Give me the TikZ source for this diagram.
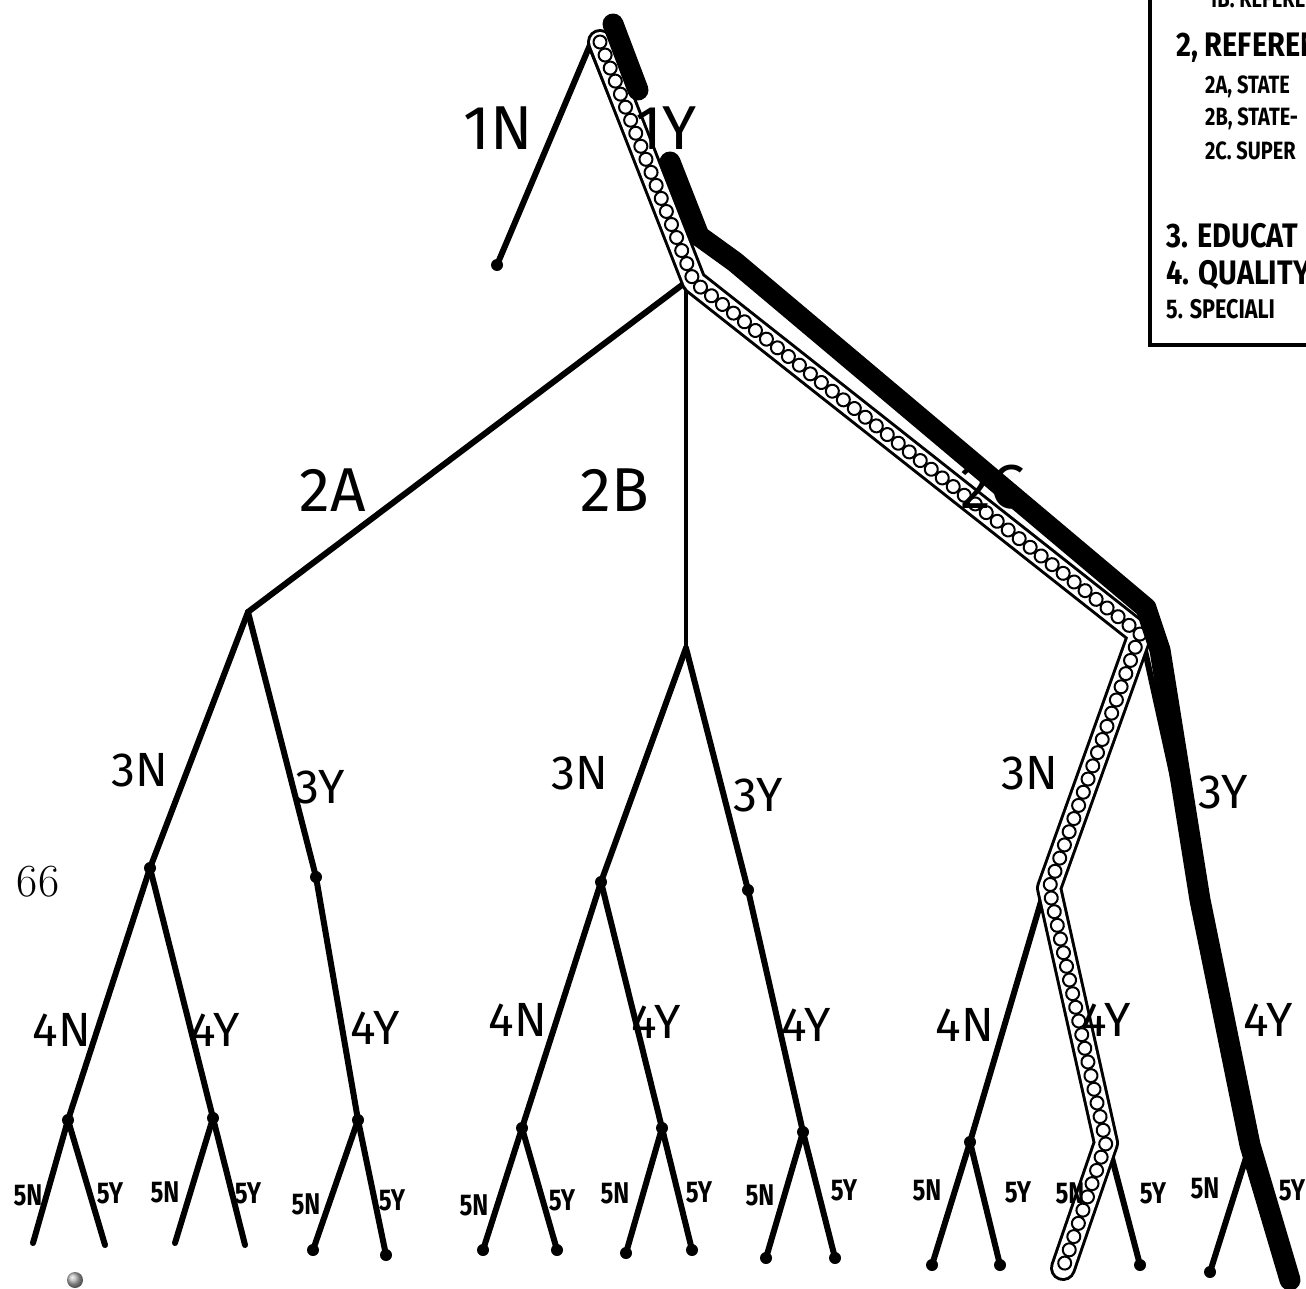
\documentclass[tikz,border=0pt]{standalone}
\usepackage{fontspec}
\usetikzlibrary{decorations.markings}
\newfontfamily\lab{Fira Sans}
\begin{document}
\begin{tikzpicture}[x=1pt,y=-1pt,
  edge/.style={line width=6pt, line cap=round},
  thinedge/.style={line width=4pt, line cap=round},
  dot/.style={circle, fill=black, inner sep=0pt, minimum size=12pt},
  pt/.style={inner sep=0pt, minimum size=0pt},
  big/.style={font=\lab\fontsize{62}{62}\selectfont, inner sep=0pt},
  mid/.style={font=\lab\fontsize{48}{48}\selectfont, inner sep=0pt},
  small/.style={font=\lab\bfseries\fontsize{30}{30}\selectfont, xscale=0.8, inner sep=0pt},
  legA/.style={font=\lab\bfseries\fontsize{34}{34}\selectfont, anchor=base west, inner sep=0pt, xscale=0.85},
  legB/.style={font=\lab\bfseries\fontsize{25}{25}\selectfont, anchor=base west, inner sep=0pt, xscale=0.8},
  hatch/.style={line width=26pt, line join=round, line cap=round, draw=black,
    postaction={draw=white, line width=20pt, line join=round, line cap=round},
    postaction={decorate, decoration={markings,
      mark=between positions 0 and 1 step 14pt with {\draw[line width=2pt, black] (0,0) circle (6.5pt);}}}},
  blackband/.style={line width=21pt, line cap=round, line join=round, draw=black}
]
\useasboundingbox (0,0) rectangle (1306,1289);

% ---- tree points ----
\node[pt] (root) at (590,45) {};
\node[dot] (n1N) at (497,265) {};
\node[pt] (n1Y) at (686,282) {};
\node[pt] (n2A) at (248,612) {};
\node[pt] (n2B) at (686,648) {};
\node[pt] (n2C) at (1140,628) {};
\node[dot] (a3N) at (150,868) {};
\node[dot] (a3Y) at (316,877) {};
\node[dot] (b3N) at (601,882) {};
\node[dot] (b3Y) at (748,890) {};
\node[dot] (c3N) at (1045,888) {};
\node[dot] (c3Y) at (1200,900) {};
\node[dot] (q1) at (68,1120) {};
\node[dot] (q2) at (213,1118) {};
\node[dot] (q3) at (358,1120) {};
\node[dot] (q4) at (522,1128) {};
\node[dot] (q5) at (662,1128) {};
\node[dot] (q6) at (803,1132) {};
\node[dot] (q7) at (970,1142) {};
\node[dot] (q8) at (1108,1143) {};
\node[dot] (q9) at (1250,1145) {};
% leaves
\node[pt] (l1) at (33,1243) {};
\node[pt] (l2) at (105,1245) {};
\node[pt] (l3) at (175,1243) {};
\node[pt] (l4) at (245,1245) {};
\node[dot] (l5) at (313,1250) {};
\node[dot] (l6) at (386,1255) {};
\node[dot] (l7) at (483,1250) {};
\node[dot] (l8) at (557,1250) {};
\node[dot] (l9) at (626,1253) {};
\node[dot] (l10) at (692,1250) {};
\node[dot] (l11) at (766,1258) {};
\node[dot] (l12) at (835,1258) {};
\node[dot] (l13) at (932,1265) {};
\node[dot] (l14) at (1000,1265) {};
\node[dot] (l15) at (1070,1268) {};
\node[dot] (l16) at (1140,1265) {};
\node[dot] (l17) at (1210,1272) {};
\node[dot] (l18) at (1290,1280) {};

% ---- edges ----
\draw[edge] (root.center) -- (n1N.center);
\draw[edge] (root.center) -- (n1Y.center);
\draw[edge] (n1Y.center) -- (n2A.center);
\draw[thinedge] (n1Y.center) -- (n2B.center);
\draw[edge] (n1Y.center) -- (n2C.center);
\draw[edge] (n2A.center) -- (a3N.center);
\draw[edge] (n2A.center) -- (a3Y.center);
\draw[edge] (n2B.center) -- (b3N.center);
\draw[edge] (n2B.center) -- (b3Y.center);
\draw[edge] (n2C.center) -- (c3N.center);
\draw[edge] (n2C.center) -- (c3Y.center);
\draw[edge] (a3N.center) -- (q1.center);
\draw[edge] (a3N.center) -- (q2.center);
\draw[edge] (a3Y.center) -- (q3.center);
\draw[edge] (b3N.center) -- (q4.center);
\draw[edge] (b3N.center) -- (q5.center);
\draw[edge] (b3Y.center) -- (q6.center);
\draw[edge] (c3N.center) -- (q7.center);
\draw[edge] (c3N.center) -- (q8.center);
\draw[edge] (c3Y.center) -- (q9.center);
\draw[edge] (q1.center) -- (l1.center);
\draw[edge] (q1.center) -- (l2.center);
\draw[edge] (q2.center) -- (l3.center);
\draw[edge] (q2.center) -- (l4.center);
\draw[edge] (q3.center) -- (l5.center);
\draw[edge] (q3.center) -- (l6.center);
\draw[edge] (q4.center) -- (l7.center);
\draw[edge] (q4.center) -- (l8.center);
\draw[edge] (q5.center) -- (l9.center);
\draw[edge] (q5.center) -- (l10.center);
\draw[edge] (q6.center) -- (l11.center);
\draw[edge] (q6.center) -- (l12.center);
\draw[edge] (q7.center) -- (l13.center);
\draw[edge] (q7.center) -- (l14.center);
\draw[edge] (q8.center) -- (l15.center);
\draw[edge] (q8.center) -- (l16.center);
\draw[edge] (q9.center) -- (l17.center);
\draw[edge] (q9.center) -- (l18.center);

% ---- highlighted paths ----
\coordinate (hs) at (600,42);
\draw[hatch] (hs) -- ([xshift=8pt]n1Y.center) -- ([xshift=0pt,yshift=-6pt]n2C.center) -- ([xshift=4pt]c3N.center) -- ([xshift=-2pt]q8.center) -- ([xshift=-7pt]l15.center);
\coordinate (bs) at (670,162);
\coordinate (bb1) at (699,236);
\coordinate (bb2) at (735,262);
\coordinate (bb3) at (1146,608);
\coordinate (bb4) at (1160,650);
\draw[blackband] (bs) -- (bb1) -- (bb2) -- (bb3) -- (bb4) -- (c3Y.center) -- (q9.center) -- (l18.center);
\coordinate (pa) at (613,24);
\coordinate (pb) at (638,90);
\draw[blackband] (pa) -- (pb);

% ---- labels ----
\node[big] (t1N) at (498,128) {1N};
\node[big] (t1Y) at (666,128) {1Y};
\node[big] (t2A) at (333,490) {2A};
\node[big] (t2B) at (615,490) {2B};
\node[big] (t2C) at (993,487) {2C};
\node[mid] (ta3N) at (140,770) {3N};
\node[mid] (ta3Y) at (320,787) {3Y};
\node[mid] (tb3N) at (580,773) {3N};
\node[mid] (tb3Y) at (758,795) {3Y};
\node[mid] (tc3N) at (1030,773) {3N};
\node[mid] (tc3Y) at (1223,792) {3Y};
\node[mid] (tq1) at (62,1030) {4N};
\node[mid] (tq2) at (215,1030) {4Y};
\node[mid] (tq3) at (375,1028) {4Y};
\node[mid] (tq4) at (518,1020) {4N};
\node[mid] (tq5) at (656,1022) {4Y};
\node[mid] (tq6) at (806,1025) {4Y};
\node[mid] (tq7) at (965,1025) {4N};
\node[mid] (tq8) at (1106,1020) {4Y};
\node[mid] (tq9) at (1268,1020) {4Y};
\node[small] (tl1) at (28,1195) {5N};
\node[small] (tl2) at (110,1193) {5Y};
\node[small] (tl3) at (165,1192) {5N};
\node[small] (tl4) at (248,1193) {5Y};
\node[small] (tl5) at (306,1204) {5N};
\node[small] (tl6) at (392,1200) {5Y};
\node[small] (tl7) at (474,1205) {5N};
\node[small] (tl8) at (562,1200) {5Y};
\node[small] (tl9) at (615,1193) {5N};
\node[small] (tl10) at (699,1192) {5Y};
\node[small] (tl11) at (760,1195) {5N};
\node[small] (tl12) at (844,1190) {5Y};
\node[small] (tl13) at (927,1190) {5N};
\node[small] (tl14) at (1018,1192) {5Y};
\node[small] (tl15) at (1070,1193) {5N};
\node[small] (tl16) at (1153,1193) {5Y};
\node[small] (tl17) at (1205,1188) {5N};
\node[small] (tl18) at (1292,1190) {5Y};

% ---- page number and marks ----
\node[font=\fontsize{46}{46}\selectfont, inner sep=0pt] (pg) at (38,882) {66};
\shade[ball color=gray!60] (75,1280) circle (8pt);

% ---- legend ----
\draw[line width=4pt] (1150,-3) -- (1150,345) -- (1310,345);
\begin{scope}
\clip (1152,0) rectangle (1306,343);
\node[legB] (g0) at (1208,8) {1B. REFERENCE};
\node[legA] (g2) at (1176,57) {2, REFEREN};
\node[legB] (g2a) at (1205,94) {2A, STATE};
\node[legB] (g2b) at (1205,126) {2B, STATE-};
\node[legB] (g2c) at (1205,160) {2C. SUPER};
\node[legA] (g3) at (1166,248) {3. EDUCAT};
\node[legA] (g4) at (1166,284) {4. QUALITY};
\node[legB,font=\lab\bfseries\fontsize{27}{27}\selectfont] (g5) at (1166,318) {5. SPECIALI};
\end{scope}
\end{tikzpicture}
\end{document}
